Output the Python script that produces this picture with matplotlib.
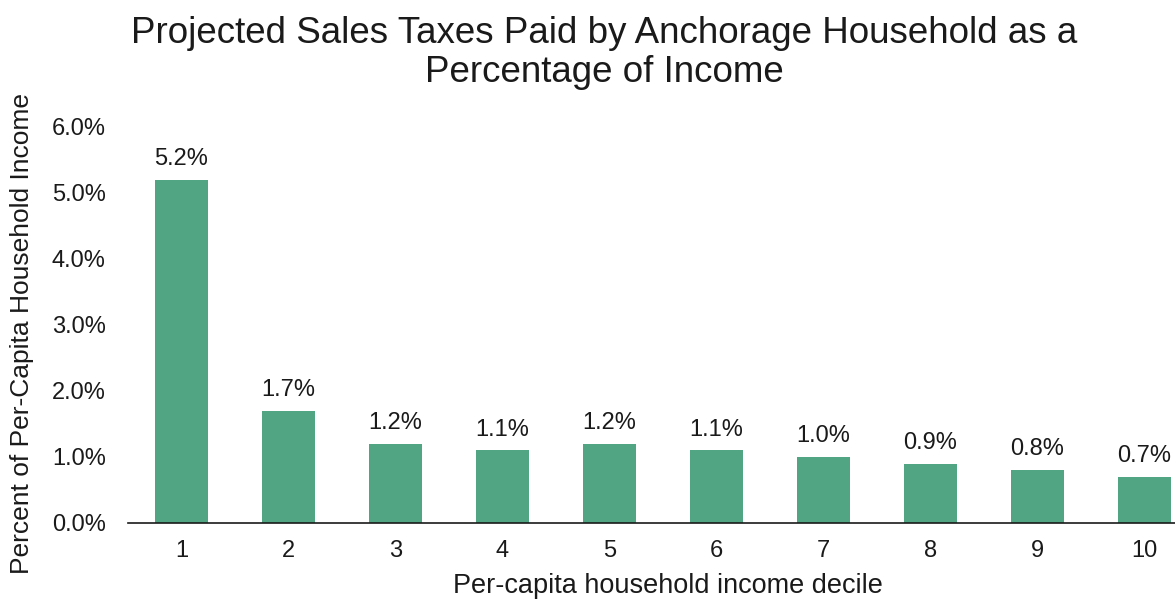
import matplotlib
matplotlib.use("Agg")
import matplotlib.pyplot as plt
from matplotlib.ticker import FuncFormatter

plt.rcParams['font.family'] = ['Liberation Sans', 'DejaVu Sans']

# sales tax share of income, by per-capita income decile
deciles = [1, 2, 3, 4, 5, 6, 7, 8, 9, 10]
tax_pct = [5.2, 1.7, 1.2, 1.1, 1.2, 1.1, 1.0, 0.9, 0.8, 0.7]
y_ticks = [0, 1, 2, 3, 4, 5, 6]

ink = "#1a1a1a"

fig = plt.figure(figsize=(11.75, 6.01), dpi=100)
# axes runs past the right edge of the figure on purpose
ax = fig.add_axes([0.1089, 0.1298, 0.9106, 0.659])

bars = ax.bar(range(len(deciles)), tax_pct, width=0.5, color="#52A583")
for b, v in zip(bars, tax_pct):
    ax.annotate(f"{v:.1f}%", (b.get_x() + b.get_width() / 2, v),
                xytext=(0, 7), textcoords="offset points",
                ha="center", va="bottom", fontsize=17, color=ink)

ax.set_xlim(-0.5, len(deciles) - 0.5)
ax.set_ylim(0, 6)
ax.set_yticks(y_ticks)
ax.yaxis.set_major_formatter(FuncFormatter(lambda v, p: f"{v:.1f}%"))
ax.set_xticks(range(len(deciles)))
ax.set_xticklabels([str(d) for d in deciles])
ax.tick_params(axis="both", length=0, labelsize=17, colors=ink)
ax.tick_params(axis="y", pad=16)
ax.tick_params(axis="x", pad=12)

for s in ["top", "right", "left"]:
    ax.spines[s].set_visible(False)
ax.spines["bottom"].set_color(ink)
ax.spines["bottom"].set_linewidth(1.2)

fig.text(668 / 1175, 1 - 586 / 601, "Per-capita household income decile",
         ha="center", va="center", fontsize=19.5, color=ink)
fig.text(22 / 1175, 1 - 334 / 601, "Percent of Per-Capita Household Income",
         rotation=90, ha="center", va="center", fontsize=19, color=ink)

fig.text(604 / 1175, 0.973, "Projected Sales Taxes Paid by Anchorage Household as a\nPercentage of Income",
         ha="center", va="top", fontsize=26.5, color=ink, linespacing=1.13)

fig.savefig("out.png", dpi=100)
